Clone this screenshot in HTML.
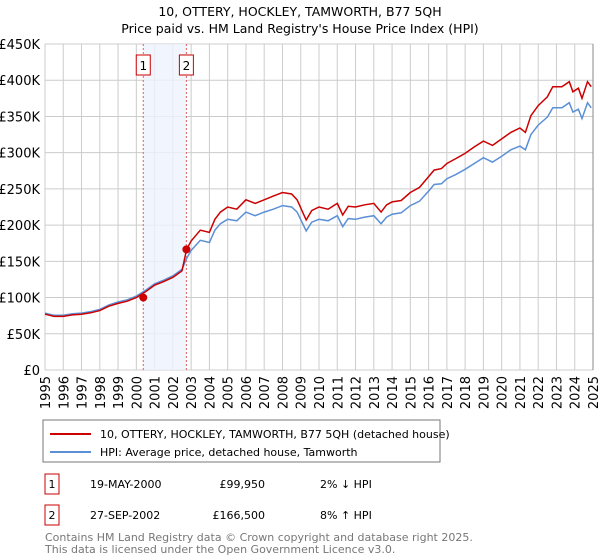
<!DOCTYPE html>
<html><head><meta charset="utf-8"><style>
body{margin:0;background:#fff;font-family:"Liberation Sans","DejaVu Sans",sans-serif;}
#wrap{position:relative;width:600px;height:560px;overflow:hidden;}
svg text{font-family:"DejaVu Sans","Liberation Sans",sans-serif;}
</style></head><body><div id="wrap">
<svg id="chart" width="600" height="560">
<text x="300" y="16" text-anchor="middle" font-size="12.5">10, OTTERY, HOCKLEY, TAMWORTH, B77 5QH</text>
<text x="300" y="33" text-anchor="middle" font-size="12.5">Price paid vs. HM Land Registry's House Price Index (HPI)</text>
<g id="grid"></g><g id="band"></g><g id="lines"></g><g id="axes"></g>
<rect x="43" y="420" width="397" height="42" fill="#fff" stroke="#777"/>
<line x1="50" y1="434" x2="91" y2="434" stroke="#cc0000" stroke-width="2"/>
<text x="100" y="438" font-size="11">10, OTTERY, HOCKLEY, TAMWORTH, B77 5QH (detached house)</text>
<line x1="50" y1="452" x2="91" y2="452" stroke="#5b8fd6" stroke-width="2"/>
<text x="100" y="456" font-size="11">HPI: Average price, detached house, Tamworth</text>
<rect x="45" y="474" width="14" height="20" fill="none" stroke="#cc0000"/>
<text x="52" y="488" font-size="11" text-anchor="middle">1</text>
<text x="90" y="488" font-size="11">19-MAY-2000</text>
<text x="265" y="488" font-size="11" text-anchor="end">£99,950</text>
<text x="320" y="488" font-size="11">2% ↓ HPI</text>
<rect x="45" y="505" width="14" height="20" fill="none" stroke="#cc0000"/>
<text x="52" y="519" font-size="11" text-anchor="middle">2</text>
<text x="90" y="519" font-size="11">27-SEP-2002</text>
<text x="265" y="519" font-size="11" text-anchor="end">£166,500</text>
<text x="320" y="519" font-size="11">8% ↑ HPI</text>
<text x="45" y="541" font-size="11" fill="#777">Contains HM Land Registry data © Crown copyright and database right 2025.</text>
<text x="45" y="553" font-size="11" fill="#777">This data is licensed under the Open Government Licence v3.0.</text>
</svg></div>
<script>
const times=[1995,1995.5,1996,1996.5,1997,1997.5,1998,1998.5,1999,1999.5,2000,2000.5,2001,2001.5,2002,2002.5,2002.75,2003,2003.5,2004,2004.3,2004.6,2005,2005.5,2006,2006.5,2007,2007.5,2008,2008.5,2008.8,2009.3,2009.6,2010,2010.5,2011,2011.3,2011.6,2012,2012.5,2013,2013.4,2013.7,2014,2014.5,2015,2015.5,2016,2016.3,2016.7,2017,2017.5,2018,2018.5,2019,2019.5,2020,2020.5,2021,2021.3,2021.6,2022,2022.5,2022.8,2023.3,2023.7,2023.9,2024.2,2024.4,2024.7,2024.9];
const priceSeries=[77,74,74,76,77,79,82,88,92,95,100,108,117,122,128,137,166.5,178,193,190,208,218,225,222,235,230,235,240,245,243,235,207,220,225,222,230,214,226,225,228,230,218,228,232,234,245,252,267,276,278,285,292,299,308,316,310,319,328,334,328,351,365,377,391,391,398,384,389,375,398,391];
const hpiSeries=[78.6,75.5,75.5,77.6,78.6,80.6,83.7,89.8,93.9,96.9,102,110,119,124,130,139,154,165,179,176,193,202,208,206,218,213,218,222,227,225,218,192,204,208,206,213,198,209,208,211,213,202,211,215,217,227,233,247,256,257,264,270,277,285,293,287,295,304,309,304,325,338,349,362,362,369,356,360,347,369,362];
const yTicks=[0,50,100,150,200,250,300,350,400,450];
const yTickLabels=["£0","£50K","£100K","£150K","£200K","£250K","£300K","£350K","£400K","£450K"];
const xYears=[1995,1996,1997,1998,1999,2000,2001,2002,2003,2004,2005,2006,2007,2008,2009,2010,2011,2012,2013,2014,2015,2016,2017,2018,2019,2020,2021,2022,2023,2024,2025];
const saleTimes=[2000.38,2002.74];
const salePrices=[99.95,166.5];
const saleLabels=["1","2"];
const NS="http://www.w3.org/2000/svg";
const X=t=>45+(t-1995)*(548/30);
const Y=v=>370-v*(326/450);
function mk(tag,attrs,parent){const e=document.createElementNS(NS,tag);for(const k in attrs)e.setAttribute(k,attrs[k]);parent.appendChild(e);return e;}
const grid=document.getElementById('grid'),axes=document.getElementById('axes'),band=document.getElementById('band'),lines=document.getElementById('lines');
yTicks.forEach((v,i)=>{
 const l=mk('line',{x1:45,x2:593,y1:Y(v),y2:Y(v),stroke:'#ccc'},grid);
 
 
 const t=mk('text',{x:40,y:Y(v)+5,'text-anchor':'end','font-size':13},axes);
 t.textContent=yTickLabels[i];
 
 
});
xYears.forEach(yr=>{
 const l=mk('line',{x1:X(yr),x2:X(yr),y1:44,y2:370,stroke:'#ccc'},grid);
 
 
 const t=mk('text',{x:0,y:0,'text-anchor':'end','font-size':13,transform:`translate(${X(yr)+5},376) rotate(-90)`},axes);
 t.textContent=yr;
 
 
});
const b=mk('rect',{x:X(saleTimes[0]),y:44,width:X(saleTimes[1])-X(saleTimes[0]),height:326,fill:'#eef3fc',opacity:0.8},band);


saleTimes.forEach((t,i)=>{
 const l=mk('line',{x1:X(t),x2:X(t),y1:44,y2:370,stroke:'#e06060','stroke-dasharray':'2,2'},band);
 
 
 const r=mk('rect',{x:X(t)-7,y:55,width:14,height:20,fill:'#fff',stroke:'#cc0000'},band);
 
 
 const tx=mk('text',{x:X(t),y:70,'text-anchor':'middle','font-size':12},band);
 tx.textContent=saleLabels[i];
 
 
});
const path=arr=>arr.map((v,i)=>(i?'L':'M')+X(times[i]).toFixed(1)+','+Y(v).toFixed(1)).join('');
const hp=mk('path',{d:path(hpiSeries),fill:'none',stroke:'#5b8fd6','stroke-width':1.5},lines);


const pp=mk('path',{d:path(priceSeries),fill:'none',stroke:'#cc0000','stroke-width':1.5},lines);


saleTimes.forEach((t,i)=>{
 const c=mk('circle',{cx:X(t),cy:Y(salePrices[i]),r:4,fill:'#cc0000'},lines);
 
 
});
const ax=mk('line',{x1:593,x2:593,y1:44,y2:370,stroke:'#888'},axes);


</script></body></html>
